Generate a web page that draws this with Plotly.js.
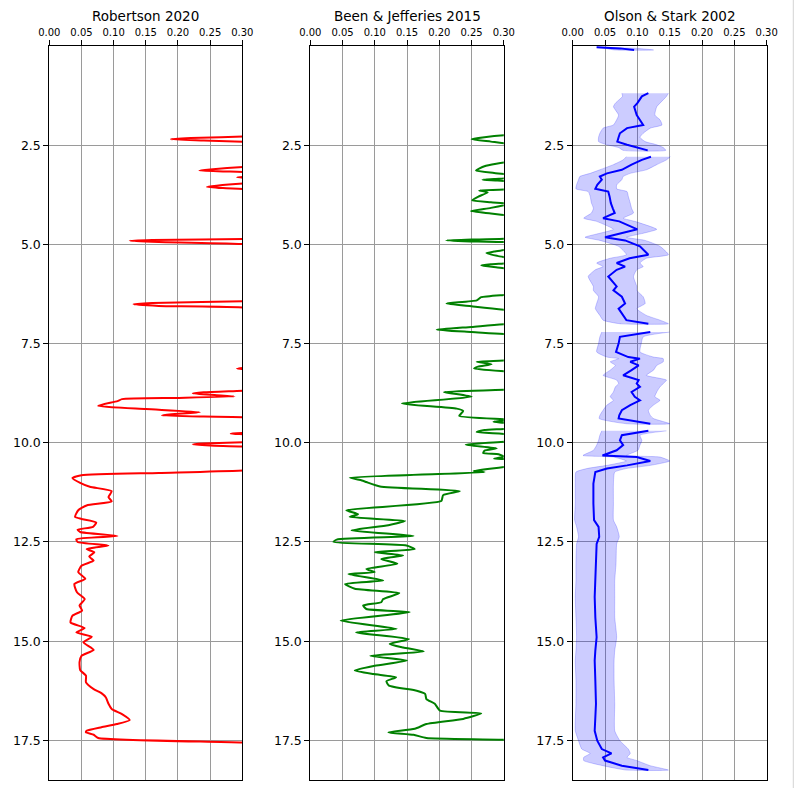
<!DOCTYPE html>
<html>
<head>
<meta charset="utf-8">
<script src="https://cdn.plot.ly/plotly-3.0.1.min.js"></script>
<style>
  html, body { margin: 0; padding: 0; background: #ffffff; }
  #chart { width: 794px; height: 788px; }
</style>
</head>
<body>
<div id="chart"></div>
<script>
// ---------------- DATA ----------------
const panelTitles = ["Robertson 2020", "Been & Jefferies 2015", "Olson & Stark 2002"];
const xTickVals = [0.00, 0.05, 0.10, 0.15, 0.20, 0.25, 0.30];
const yTickVals = [2.5, 5.0, 7.5, 10.0, 12.5, 15.0, 17.5];

// Robertson 2020 (values above 0.30 run off the plotted window)
const robDepth = [
  0.00, 1.20, 2.20, 2.28, 2.32, 2.35, 2.38, 2.42, 2.60, 2.95,
  3.04, 3.11, 3.14, 3.16, 3.18, 3.24, 3.29, 3.31, 3.33, 3.40,
  3.46, 3.52, 3.55, 3.58, 3.61, 4.00, 4.80, 4.86, 4.89, 4.91,
  4.94, 5.00, 5.50, 6.38, 6.43, 6.48, 6.51, 6.55, 6.60, 7.40,
  8.10, 8.13, 8.16, 8.50, 8.68, 8.73, 8.76, 8.80, 8.83, 8.87,
  8.90, 8.95, 9.07, 9.15, 9.23, 9.28, 9.31, 9.34, 9.36, 9.60,
  9.75, 9.77, 9.79, 9.90, 9.98, 10.02, 10.04, 10.07, 10.10, 10.40,
  10.69, 10.76, 10.82, 10.89, 11.01, 11.11, 11.22, 11.37, 11.48, 11.58,
  11.70, 11.87, 11.92, 12.01, 12.12, 12.19, 12.25, 12.35, 12.43, 12.50,
  12.59, 12.68, 12.76, 12.87, 12.97, 13.10, 13.26, 13.43, 13.56, 13.77,
  13.94, 14.10, 14.23, 14.36, 14.53, 14.67, 14.78, 14.89, 15.03, 15.22,
  15.37, 15.53, 15.73, 15.87, 16.04, 16.21, 16.31, 16.42, 16.58, 16.71,
  16.84, 16.99, 17.09, 17.17, 17.26, 17.30, 17.36, 17.44, 17.56, 17.80,
  18.30
];
const robValue = [
  0.60, 0.80, 0.50, 0.31, 0.22, 0.189, 0.24, 0.31, 0.50, 0.50,
  0.31, 0.25, 0.233, 0.27, 0.31, 0.35, 0.31, 0.292, 0.31, 0.40,
  0.31, 0.26, 0.245, 0.27, 0.31, 0.60, 0.50, 0.31, 0.16, 0.125,
  0.17, 0.31, 0.60, 0.50, 0.31, 0.16, 0.131, 0.17, 0.31, 0.60,
  0.31, 0.292, 0.31, 0.50, 0.31, 0.24, 0.223, 0.26, 0.288, 0.20,
  0.113, 0.106, 0.076, 0.15, 0.234, 0.19, 0.175, 0.24, 0.31, 0.50,
  0.31, 0.282, 0.31, 0.40, 0.31, 0.24, 0.223, 0.25, 0.31, 0.50,
  0.31, 0.17, 0.05, 0.036, 0.048, 0.063, 0.097, 0.092, 0.097, 0.058,
  0.045, 0.040, 0.050, 0.073, 0.068, 0.044, 0.048, 0.106, 0.042, 0.044,
  0.092, 0.058, 0.070, 0.062, 0.069, 0.050, 0.045, 0.056, 0.039, 0.043,
  0.055, 0.047, 0.051, 0.036, 0.033, 0.055, 0.042, 0.066, 0.053, 0.069,
  0.050, 0.047, 0.048, 0.057, 0.057, 0.069, 0.081, 0.088, 0.092, 0.097,
  0.113, 0.125, 0.105, 0.081, 0.058, 0.057, 0.069, 0.076, 0.31, 0.60,
  0.80
];

// Been & Jefferies 2015
const beenDepth = [
  0.00, 1.50, 2.15, 2.24, 2.30, 2.35, 2.41, 2.47, 2.70, 2.91,
  3.03, 3.14, 3.20, 3.25, 3.31, 3.35, 3.37, 3.39, 3.42, 3.52,
  3.61, 3.64, 3.69, 3.80, 3.89, 3.94, 3.98, 4.08, 4.16, 4.22,
  4.28, 4.60, 4.85, 4.88, 4.90, 4.93, 4.95, 5.03, 5.12, 5.18,
  5.22, 5.29, 5.35, 5.41, 5.47, 5.50, 5.53, 5.58, 5.62, 5.90,
  6.26, 6.33, 6.41, 6.49, 6.56, 6.66, 6.85, 7.00, 7.08, 7.15,
  7.21, 7.27, 7.60, 7.92, 7.96, 8.02, 8.08, 8.13, 8.21, 8.45,
  8.66, 8.72, 8.84, 9.01, 9.14, 9.20, 9.32, 9.42, 9.47, 9.52,
  9.62, 9.68, 9.73, 9.79, 9.88, 9.96, 10.05, 10.14, 10.20, 10.26,
  10.29, 10.35, 10.40, 10.42, 10.50, 10.59, 10.71, 10.74, 10.88, 10.95,
  10.99, 11.10, 11.22, 11.32, 11.47, 11.70, 11.80, 11.87, 11.97, 12.08,
  12.21, 12.35, 12.44, 12.50, 12.59, 12.68, 12.76, 12.84, 12.93, 13.05,
  13.18, 13.26, 13.31, 13.47, 13.56, 13.68, 13.79, 13.94, 14.02, 14.10,
  14.19, 14.27, 14.48, 14.69, 14.78, 14.95, 15.07, 15.16, 15.26, 15.37,
  15.49, 15.62, 15.74, 15.83, 15.91, 16.01, 16.12, 16.25, 16.33, 16.46,
  16.58, 16.75, 16.82, 16.96, 17.09, 17.21, 17.30, 17.36, 17.44, 17.49,
  17.80, 18.30
];
const beenValue = [
  0.60, 0.80, 0.50, 0.31, 0.27, 0.25, 0.28, 0.31, 0.50, 0.31,
  0.27, 0.257, 0.285, 0.31, 0.32, 0.285, 0.267, 0.29, 0.31, 0.33,
  0.31, 0.262, 0.275, 0.26, 0.251, 0.28, 0.31, 0.28, 0.249, 0.28,
  0.31, 0.50, 0.31, 0.25, 0.211, 0.26, 0.31, 0.33, 0.31, 0.285,
  0.273, 0.29, 0.31, 0.33, 0.31, 0.28, 0.265, 0.29, 0.31, 0.50,
  0.31, 0.265, 0.258, 0.211, 0.25, 0.31, 0.50, 0.31, 0.25, 0.196,
  0.25, 0.31, 0.50, 0.31, 0.258, 0.281, 0.26, 0.254, 0.31, 0.50,
  0.31, 0.207, 0.25, 0.142, 0.227, 0.237, 0.231, 0.31, 0.284, 0.31,
  0.32, 0.27, 0.258, 0.31, 0.33, 0.31, 0.241, 0.289, 0.27, 0.268,
  0.292, 0.30, 0.285, 0.31, 0.33, 0.31, 0.253, 0.27, 0.061, 0.080,
  0.087, 0.108, 0.232, 0.206, 0.203, 0.056, 0.074, 0.061, 0.147, 0.121,
  0.064, 0.160, 0.041, 0.036, 0.149, 0.162, 0.100, 0.144, 0.110, 0.135,
  0.087, 0.100, 0.059, 0.113, 0.054, 0.069, 0.138, 0.113, 0.110, 0.082,
  0.087, 0.154, 0.047, 0.134, 0.071, 0.153, 0.123, 0.144, 0.176, 0.093,
  0.150, 0.100, 0.069, 0.098, 0.133, 0.118, 0.122, 0.165, 0.178, 0.180,
  0.193, 0.201, 0.265, 0.237, 0.180, 0.162, 0.121, 0.160, 0.180, 0.31,
  0.60, 0.80
];

// Olson & Stark 2002: mean line and shaded band (null = gap in the record)
const olsonDepth = [
  0.03, 0.06, 0.10, 0.60,
  1.19, 1.27, 1.44, 1.53, 1.74, 1.86, 1.99, 2.07, 2.20, 2.30, 2.41, 2.49, 2.56, 2.63, 2.71,
  2.79, 2.87, 2.99, 3.12, 3.21, 3.29, 3.37, 3.50, 3.60, 3.67,
  3.79, 3.96, 4.09, 4.21, 4.34, 4.42, 4.62, 4.72, 4.82, 4.90,
  5.05, 5.26, 5.35, 5.47, 5.56, 5.64, 5.81, 6.06, 6.16, 6.32,
  6.49, 6.62, 6.79, 6.91, 7.00, 7.10,
  7.21, 7.33, 7.50, 7.71, 7.84, 7.88, 7.96, 8.05, 8.17, 8.30,
  8.42, 8.51, 8.59, 8.72, 8.84, 8.93, 9.05, 9.18, 9.31, 9.39,
  9.52, 9.60,
  9.70, 9.81, 9.94, 10.06, 10.19, 10.32, 10.36, 10.46, 10.57, 10.65,
  10.74, 11.03, 11.53, 11.95, 12.12, 12.37, 12.55, 13.05, 13.47, 13.89,
  14.40, 14.90, 15.24, 15.49, 15.99, 16.58, 17.26, 17.51, 17.72, 17.83,
  17.93, 18.01, 18.14, 18.25
];
const olsonMean = [
  0.037, 0.073, 0.095, null,
  0.117, 0.107, 0.100, 0.095, 0.099, 0.104, 0.109, 0.084, 0.073, 0.071, 0.069, 0.084, 0.102, 0.116, null,
  0.121, 0.107, 0.091, 0.076, 0.053, 0.042, 0.045, 0.038, 0.035, 0.055,
  0.057, 0.059, 0.062, 0.065, 0.047, 0.072, 0.100, 0.073, 0.050, 0.081,
  0.104, 0.117, 0.088, 0.068, 0.081, 0.068, 0.055, 0.068, 0.063, 0.076,
  0.081, 0.071, 0.078, 0.083, 0.117, null,
  0.120, 0.073, 0.071, 0.067, 0.086, 0.104, 0.089, 0.102, 0.091, 0.078,
  0.102, 0.099, 0.104, 0.091, 0.096, 0.104, 0.089, 0.076, 0.072, 0.071,
  0.120, null,
  0.117, 0.076, 0.073, 0.078, 0.068, 0.046, 0.099, 0.120, 0.084, 0.053,
  0.035, 0.032, 0.032, 0.033, 0.040, 0.041, 0.037, 0.036, 0.035, 0.034,
  0.035, 0.037, 0.035, 0.034, 0.035, 0.036, 0.034, 0.038, 0.045, 0.060,
  0.047, 0.050, 0.076, 0.117
];
const olsonLower = [
  0.037, 0.050, 0.065, null,
  0.076, 0.077, 0.066, 0.063, 0.071, 0.068, 0.063, 0.047, 0.042, 0.040, 0.040, 0.053, 0.071, 0.078, null,
  0.083, 0.078, 0.063, 0.042, 0.027, 0.011, 0.009, 0.006, 0.005, 0.024,
  0.027, 0.029, 0.032, 0.029, 0.017, 0.037, 0.063, 0.042, 0.019, 0.042,
  0.071, 0.083, 0.058, 0.037, 0.047, 0.035, 0.024, 0.032, 0.032, 0.040,
  0.037, 0.035, 0.042, 0.047, 0.073, null,
  0.045, 0.042, 0.040, 0.037, 0.053, 0.071, 0.058, 0.066, 0.058, 0.047,
  0.068, 0.071, 0.066, 0.063, 0.058, 0.063, 0.053, 0.047, 0.042, 0.041,
  0.083, null,
  0.045, 0.042, 0.040, 0.037, 0.032, 0.016, 0.063, 0.083, 0.053, 0.022,
  0.005, 0.004, 0.004, 0.003, 0.006, 0.009, 0.006, 0.005, 0.005, 0.004,
  0.005, 0.006, 0.005, 0.004, 0.005, 0.005, 0.004, 0.009, 0.014, 0.027,
  0.017, 0.017, 0.047, 0.083
];
const olsonUpper = [
  0.037, 0.100, 0.125, null,
  0.148, 0.145, 0.135, 0.130, 0.127, 0.135, 0.138, 0.120, 0.109, 0.104, 0.112, 0.130, 0.140, 0.144, null,
  0.151, 0.145, 0.130, 0.114, 0.089, 0.078, 0.076, 0.068, 0.068, 0.084,
  0.086, 0.089, 0.091, 0.094, 0.078, 0.096, 0.130, 0.109, 0.083, 0.112,
  0.135, 0.148, 0.114, 0.104, 0.109, 0.099, 0.094, 0.099, 0.099, 0.109,
  0.112, 0.099, 0.114, 0.135, 0.148, null,
  0.150, 0.109, 0.106, 0.104, 0.125, 0.140, 0.140, 0.130, 0.125, 0.114,
  0.145, 0.140, 0.135, 0.130, 0.127, 0.135, 0.125, 0.117, 0.120, 0.125,
  0.150, null,
  0.145, 0.104, 0.107, 0.104, 0.101, 0.083, 0.135, 0.150, 0.120, 0.083,
  0.065, 0.063, 0.063, 0.063, 0.068, 0.072, 0.068, 0.067, 0.065, 0.065,
  0.065, 0.068, 0.065, 0.064, 0.064, 0.065, 0.065, 0.073, 0.086, 0.089,
  0.084, 0.099, 0.120, 0.148
];

// ---------------- BUILD ----------------
const FONT = "DejaVu Sans, Liberation Sans, sans-serif";
const traces = [];

// band polygons, one per continuous segment
function bandSegments(depth, lo, hi) {
  const segs = [];
  let cur = null;
  for (let i = 0; i < depth.length; i++) {
    if (lo[i] === null || hi[i] === null) { if (cur) { segs.push(cur); cur = null; } continue; }
    if (!cur) cur = { d: [], lo: [], hi: [] };
    cur.d.push(depth[i]); cur.lo.push(lo[i]); cur.hi.push(hi[i]);
  }
  if (cur) segs.push(cur);
  return segs;
}
bandSegments(olsonDepth, olsonLower, olsonUpper).forEach(s => {
  traces.push({
    type: "scatter", mode: "lines", xaxis: "x3", yaxis: "y3",
    x: s.lo.concat(s.hi.slice().reverse()),
    y: s.d.concat(s.d.slice().reverse()),
    fill: "toself", fillcolor: "rgba(0,0,255,0.2)",
    line: { color: "rgba(0,0,255,0.2)", width: 1, shape: "spline", smoothing: 0.5 },
    hoverinfo: "skip", showlegend: false
  });
});

traces.push({
  type: "scatter", mode: "lines", xaxis: "x", yaxis: "y",
  x: robValue, y: robDepth,
  line: { color: "#ff0000", width: 2, shape: "spline", smoothing: 0.5 }, showlegend: false
});
traces.push({
  type: "scatter", mode: "lines", xaxis: "x2", yaxis: "y2",
  x: beenValue, y: beenDepth,
  line: { color: "#008000", width: 2, shape: "spline", smoothing: 0.5 }, showlegend: false
});
traces.push({
  type: "scatter", mode: "lines", xaxis: "x3", yaxis: "y3",
  x: olsonMean, y: olsonDepth, connectgaps: false,
  line: { color: "#0000ff", width: 2 }, showlegend: false
});

const W = 794;
const domains = [[49.3 / W, 242.3 / W], [310.3 / W, 503.8 / W], [572.7 / W, 766.7 / W]];

function xAx(i) {
  return {
    domain: domains[i], range: [0, 0.30], side: "top",
    anchor: i === 0 ? "y" : "y" + (i + 1),
    tickmode: "array", tickvals: xTickVals, tickformat: ".2f",
    ticks: "outside", ticklen: 5, tickwidth: 1, tickcolor: "#000",
    tickfont: { family: FONT, size: 10, color: "#000" },
    showline: true, linecolor: "#000", linewidth: 1, mirror: true,
    showgrid: true, gridcolor: "#9a9a9a", gridwidth: 1, zeroline: false
  };
}
function yAx(i) {
  return {
    domain: [0, 1], range: [18.5, 0],
    anchor: i === 0 ? "x" : "x" + (i + 1),
    tickmode: "array", tickvals: yTickVals, tickformat: ".1f",
    ticks: "outside", ticklen: 5, tickwidth: 1, tickcolor: "#000",
    tickfont: { family: FONT, size: 12.5, color: "#000" },
    showline: true, linecolor: "#000", linewidth: 1, mirror: true,
    showgrid: true, gridcolor: "#9a9a9a", gridwidth: 1, zeroline: false
  };
}

const annotations = panelTitles.map((t, i) => ({
  text: t, xref: "paper", yref: "paper",
  x: (domains[i][0] + domains[i][1]) / 2, y: (780 - 16) / 734,
  xanchor: "center", yanchor: "middle", showarrow: false,
  font: { family: FONT, size: 13.5, color: "#000" }
}));

const layout = {
  width: 794, height: 788,
  margin: { l: 0, r: 0, t: 46, b: 8, pad: 0 },
  paper_bgcolor: "#ffffff", plot_bgcolor: "#ffffff",
  showlegend: false,
  xaxis: xAx(0), xaxis2: xAx(1), xaxis3: xAx(2),
  yaxis: yAx(0), yaxis2: yAx(1), yaxis3: yAx(2),
  annotations: annotations,
  shapes: [{
    type: "line", xref: "paper", yref: "paper",
    x0: 793.5 / W, x1: 793.5 / W, y0: -8 / 734, y1: 1 + 46 / 734,
    line: { color: "#dcdcdc", width: 1.5 }
  }]
};

Plotly.newPlot("chart", traces, layout, { staticPlot: true, displayModeBar: false });
</script>
</body>
</html>
